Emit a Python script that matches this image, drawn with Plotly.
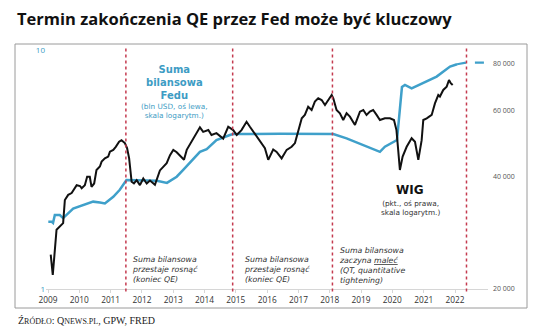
import plotly.graph_objects as go

# ---------------- data ----------------
wig_dates = ["2009-02-01","2009-02-25","2009-04-10","2009-05-18","2009-06-26","2009-07-16","2009-08-24","2009-10-03",
             "2009-11-11","2009-12-01","2010-01-09","2010-01-28","2010-03-06","2010-04-02","2010-05-03","2010-05-23",
             "2010-06-23","2010-07-20","2010-08-29","2010-09-18","2010-10-26","2010-12-04","2010-12-24","2011-02-01",
             "2011-03-02","2011-04-10","2011-05-08","2011-06-16","2011-07-12","2011-08-05","2011-09-03","2011-09-30",
             "2011-11-01","2011-12-09","2012-01-17","2012-02-26","2012-04-04","2012-06-01","2012-07-29","2012-10-16",
             "2012-11-24","2013-01-01","2013-02-10","2013-05-06","2013-06-07","2013-08-21","2013-11-08","2013-12-16",
             "2014-02-14","2014-03-23","2014-05-20","2014-08-06","2014-10-04","2014-12-01","2015-01-11","2015-03-08",
             "2015-05-06","2015-06-14","2015-09-01","2015-10-29","2015-12-06","2016-01-14","2016-03-12","2016-04-21",
             "2016-06-18","2016-08-16","2016-10-13","2016-11-21","2016-12-30","2017-02-08","2017-03-16","2017-04-24",
             "2017-06-03","2017-07-11","2017-08-19","2017-09-28","2017-11-06","2017-12-14","2018-01-23","2018-02-11",
             "2018-03-21","2018-04-29","2018-06-07","2018-07-16","2018-08-24","2018-10-22","2018-12-19","2019-01-27",
             "2019-03-06","2019-04-14","2019-05-22","2019-07-01","2019-08-09","2019-10-06","2019-12-04","2020-01-20",
             "2020-02-18","2020-03-09","2020-03-29","2020-04-30","2020-06-16","2020-08-13","2020-09-21","2020-10-30",
             "2020-12-08","2020-12-27","2021-02-05","2021-04-04","2021-05-12","2021-06-20","2021-07-09","2021-08-17",
             "2021-09-26","2021-10-23","2021-11-12","2021-12-05"]
wig_values = [24700,21800,28800,29300,30000,34600,35700,36100,
              37200,37900,37700,37200,37900,39900,39900,37500,
              38300,41600,42500,43800,44700,45200,46600,47100,
              48000,49500,50000,49100,47600,44700,38700,38300,
              39100,37900,39500,38300,39000,38000,41500,43400,
              45600,47100,46400,44300,47100,50500,54100,52600,
              53200,51600,52200,50500,54300,53200,51600,53200,
              56000,54300,51000,49100,47600,44300,47200,46500,
              44700,47100,48000,49100,53200,57200,58400,61400,
              60200,63400,64700,64000,62100,64000,66000,64700,
              60200,59000,56600,59000,57800,54900,59600,60200,
              58400,59600,60200,58400,56600,57200,57200,56600,
              53200,47100,41600,45200,48000,50600,49500,44300,
              50000,56600,57200,58400,62700,66000,65400,68100,
              69500,72400,71000,70200]

fed_dates = ["2009-01-04","2009-02-13","2009-02-28","2009-03-21","2009-05-18","2009-06-26","2009-10-21","2010-02-16",
             "2010-06-11","2010-08-29","2010-10-26","2011-02-01","2011-04-18","2011-07-05","2011-12-09","2012-06-24",
             "2012-10-19","2013-02-10","2013-04-27","2013-11-08","2014-01-26","2014-05-20","2014-10-24","2014-12-01",
             "2016-05-29","2018-02-11","2018-07-16","2019-01-27","2019-08-09","2019-10-06","2020-01-12","2020-02-24",
             "2020-04-22","2020-05-27","2020-08-13","2020-12-27","2021-06-01","2021-11-04","2022-01-25"]
fed_values = [1.91,1.91,1.89,2.04,2.04,1.98,2.17,2.25,
              2.32,2.30,2.28,2.43,2.60,2.86,2.86,2.84,
              2.78,2.95,3.15,3.75,3.85,4.20,4.41,4.45,
              4.46,4.45,4.27,4.00,3.75,3.94,4.13,4.20,
              7.00,7.14,6.91,7.26,7.74,8.52,8.72]
fed_proj_dates = ["2022-01-25","2022-05-16","2023-01-20"]
fed_proj_values = [8.72,8.86,8.86]

event_dates = ["2011-06-28","2014-11-25","2018-02-01","2022-05-15"]
year_labels = [str(y) for y in range(2009, 2023)]
fed_ticks = [1, 10]
fed_tick_text = ["1", "10"]
wig_ticks = [20000, 40000, 60000, 80000]
wig_tick_text = ["20 000", "40 000", "60 000", "80 000"]

# ---------------- layout helpers ----------------
W, H = 536, 332
L, R, T, B = 46, 48, 50, 43
PW, PH = W - L - R, H - T - B

def px(x):
    return (x - L) / PW

def py(y):
    return (H - B - y) / PH

BLUE = "#3fa0ca"
TEAL_TXT = "#3d9cc4"
FONT = "Open Sans"
NFONT = "DejaVu Sans"

fig = go.Figure()
fig.add_trace(go.Scatter(x=fed_dates, y=fed_values, mode="lines",
                         line=dict(color=BLUE, width=2.5), yaxis="y", hoverinfo="skip"))
fig.add_trace(go.Scatter(x=fed_proj_dates, y=fed_proj_values, mode="lines",
                         line=dict(color=BLUE, width=2.2, dash="dash"), yaxis="y", hoverinfo="skip"))
fig.add_trace(go.Scatter(x=wig_dates, y=wig_values, mode="lines",
                         line=dict(color="#111111", width=2), yaxis="y2", hoverinfo="skip"))

shapes = []
for d in event_dates:
    shapes.append(dict(type="line", xref="x", yref="paper", x0=d, x1=d, y0=-0.01, y1=1.01,
                       line=dict(color="#c43a4f", width=1.5, dash="dot")))
shapes.append(dict(type="rect", xref="paper", yref="paper", x0=px(15), x1=px(527), y0=py(308), y1=py(44),
                   line=dict(color="#9a9a9a", width=1), fillcolor="rgba(0,0,0,0)", layer="below"))

ann = []
def text(x, y, s, size, color, anchor="center", family=FONT, align="center"):
    ann.append(dict(x=px(x), y=py(y), xref="paper", yref="paper", text=s, showarrow=False,
                    xanchor=anchor, yanchor="middle", align=align,
                    font=dict(size=size, color=color, family=family)))

text(15, 18, "<b>Termin zakończenia QE przez Fed może być kluczowy</b>", 16.5, "#111111", "left")
text(16, 320, "Ź<span style='font-size:8px'>RÓDŁO</span>: Q<span style='font-size:8px'>NEWS.PL</span>, GPW, FRED",
     10, "#222222", "left", "Liberation Serif")

text(174, 82, "<b>Suma<br>bilansowa<br>Fedu</b>", 10, TEAL_TXT, family=NFONT)
text(174, 111, "(bln USD, oś lewa,<br>skala logarytm.)", 7.3, TEAL_TXT, family=NFONT)

text(410, 190, "<b>WIG</b>", 12, "#111111", family=NFONT)
text(410, 208, "(pkt., oś prawa,<br>skala logarytm.)", 7.3, "#333333", family=NFONT)

NOTE = "#333333"
text(130, 269, "<i>Suma bilansowa<br>przestaje rosnąć<br>(koniec QE)</i>", 7.8, NOTE, "left", NFONT, "left")
text(242, 269, "<i>Suma bilansowa<br>przestaje rosnąć<br>(koniec QE)</i>", 7.8, NOTE, "left", NFONT, "left")
text(337, 265, "<i>Suma bilansowa<br>zaczyna <u>maleć</u><br>(QT, quantitative<br>tightening)</i>",
     7.8, NOTE, "left", NFONT, "left")

fig.update_layout(
    width=W, height=H,
    margin=dict(l=L, r=R, t=T, b=B),
    paper_bgcolor="white", plot_bgcolor="white",
    showlegend=False,
    shapes=shapes, annotations=ann,
    font=dict(family=FONT),
    xaxis=dict(type="date", range=["2008-12-08", "2023-01-21"],
               tickvals=[y + "-01-01" for y in year_labels], ticktext=year_labels,
               showline=True, linecolor="#d6d6d6", linewidth=1, ticks="outside", ticklen=3,
               tickcolor="#d6d6d6", tickfont=dict(size=8.3, color="#333333"),
               showgrid=False, zeroline=False),
    yaxis=dict(type="log", range=[0, 1], tickvals=fed_ticks, ticktext=fed_tick_text,
               tickfont=dict(size=8, color=TEAL_TXT), showgrid=False, zeroline=False,
               showline=False, ticks=""),
    yaxis2=dict(type="log", overlaying="y", side="right", range=[4.30103, 4.94],
                tickvals=wig_ticks, ticktext=wig_tick_text, tickfont=dict(size=7, color="#555555"),
                showgrid=False, zeroline=False, showline=False, ticks="", ticklabelstandoff=4),
)

fig.write_html("out.html")
